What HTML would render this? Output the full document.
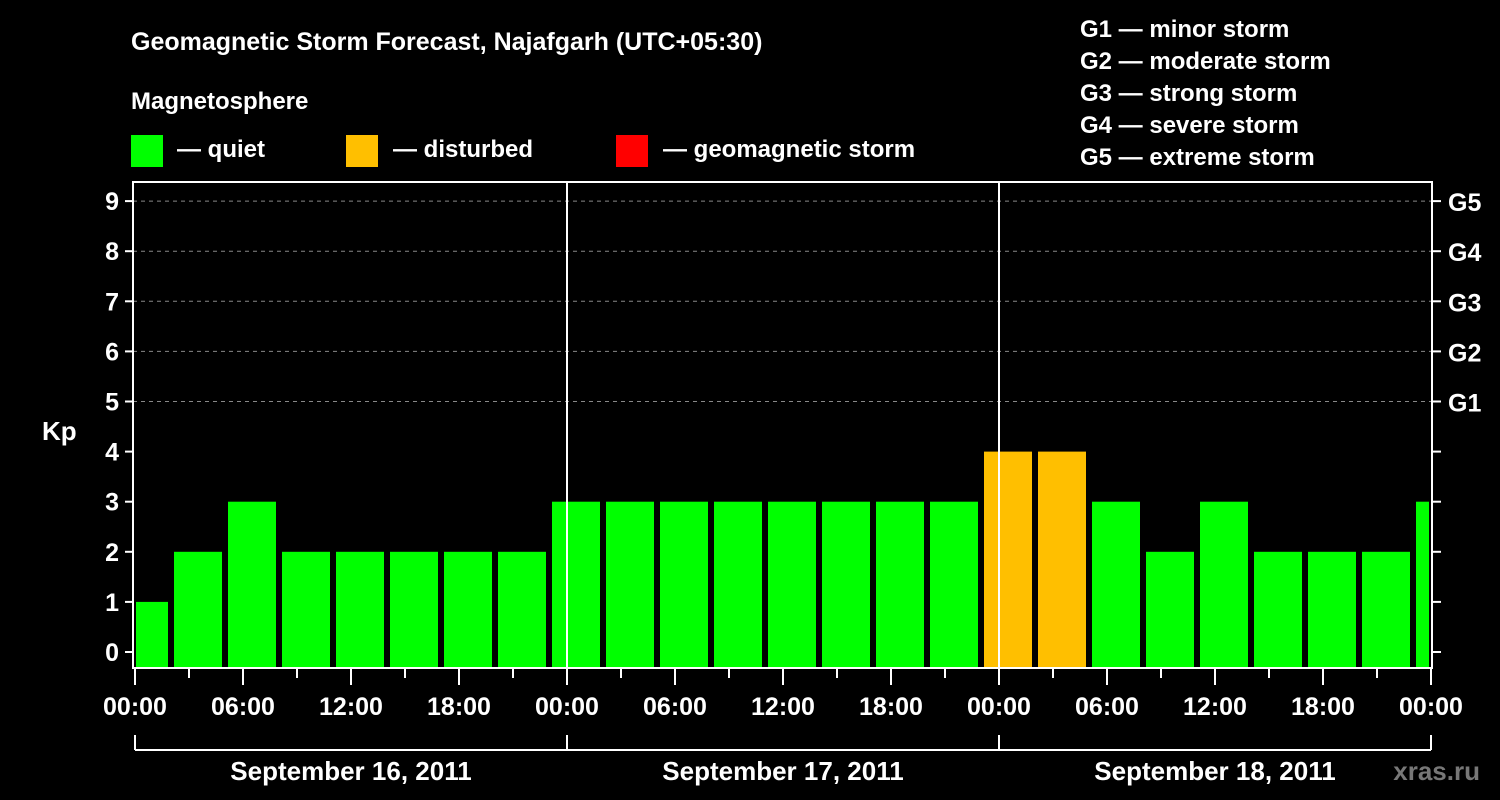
<!DOCTYPE html>
<html><head><meta charset="utf-8"><style>
html,body{margin:0;padding:0;background:#000;}
svg{display:block;font-family:"Liberation Sans",Arial,sans-serif;font-weight:bold;}
</style></head><body>
<svg id="chart" width="1500" height="800" viewBox="0 0 1500 800">
<rect width="1500" height="800" fill="#000"/>
<text x="131" y="50" fill="#fff" font-size="25">Geomagnetic Storm Forecast, Najafgarh (UTC+05:30)</text>
<text x="131" y="109" fill="#fff" font-size="24">Magnetosphere</text>
<g><rect x="131" y="135" width="32" height="32" fill="#00ff00"/><text x="177" y="157" fill="#fff" font-size="24">— quiet</text></g>
<g><rect x="346" y="135" width="32" height="32" fill="#ffbf00"/><text x="393" y="157" fill="#fff" font-size="24">— disturbed</text></g>
<g><rect x="616" y="135" width="32" height="32" fill="#ff0000"/><text x="663" y="157" fill="#fff" font-size="24">— geomagnetic storm</text></g>
<g fill="#fff" font-size="24">
<text x="1080" y="37">G1 — minor storm</text>
<text x="1080" y="69">G2 — moderate storm</text>
<text x="1080" y="101">G3 — strong storm</text>
<text x="1080" y="133">G4 — severe storm</text>
<text x="1080" y="165">G5 — extreme storm</text>
</g>
<text x="42" y="440" fill="#fff" font-size="26">Kp</text>
<g id="grid"></g>
<g id="bars"></g>
<g id="axes"></g>
<text x="1480" y="780" fill="#777" font-size="26" text-anchor="end">xras.ru</text>
</svg>
<script>
const kpValues = [1,2,3,2,2,2,2,2, 3,3,3,3,3,3,3,3, 4,4,3,2,3,2,2,2, 3];
const yTicks = [0,1,2,3,4,5,6,7,8,9];
const gLabels = ["G1","G2","G3","G4","G5"];
const gLevels = [5,6,7,8,9];
const xTickLabels = ["00:00","06:00","12:00","18:00","00:00","06:00","12:00","18:00","00:00","06:00","12:00","18:00","00:00"];
const dayLabels = ["September 16, 2011","September 17, 2011","September 18, 2011"];

const NS="http://www.w3.org/2000/svg";
const L=133,R=1432,T=182,B=668,X0=135,DAY=432;
const y=v=>652-v*50.1;
const xh=h=>X0+h*DAY/24;
function mk(tag,attrs,parent,txt){const e=document.createElementNS(NS,tag);for(const k in attrs)e.setAttribute(k,attrs[k]);if(txt!==undefined)e.textContent=txt;parent.appendChild(e);return e;}
const grid=document.getElementById('grid'),bars=document.getElementById('bars'),axes=document.getElementById('axes');
gLevels.forEach(v=>{const g=mk('line',{x1:L,x2:R,y1:y(v),y2:y(v),stroke:'#888','stroke-dasharray':'4,4','stroke-width':1},grid);

});
kpValues.forEach((v,i)=>{const c=xh(0.5+3*i);let x1=Math.max(c-24,L+3),x2=Math.min(c+24,R-3);
const col=v>=5?'#ff0000':(v>=4?'#ffbf00':'#00ff00');
const r=mk('rect',{x:x1,y:y(v),width:x2-x1,height:B-1-y(v),fill:col},bars);

});
// day separators
[1,2].forEach(d=>{const l=mk('line',{x1:X0+d*DAY,x2:X0+d*DAY,y1:T,y2:B,stroke:'#fff','stroke-width':2},axes);

});
// frame
const fr=mk('path',{d:`M${L},${T}H${R}V${B}H${L}Z`,fill:'none',stroke:'#fff','stroke-width':2},axes);


yTicks.forEach(v=>{mk('line',{x1:L-8,x2:L,y1:y(v),y2:y(v),stroke:'#fff','stroke-width':2},axes);
mk('line',{x1:R,x2:R+9,y1:y(v),y2:y(v),stroke:'#fff','stroke-width':2},axes);
const t=mk('text',{x:L-14,y:y(v)+9,fill:'#fff','font-size':25,'text-anchor':'end'},axes,String(v));

});
gLabels.forEach((g,i)=>{const t=mk('text',{x:1448,y:y(gLevels[i])+10,fill:'#fff','font-size':25},axes,g);

});
for(let h=0;h<=72;h+=3){const maj=h%6===0;mk('line',{x1:xh(h),x2:xh(h),y1:B,y2:maj?B+17:B+10,stroke:'#fff','stroke-width':2},axes);}
xTickLabels.forEach((s,i)=>{const t=mk('text',{x:xh(i*6),y:715,fill:'#fff','font-size':25,'text-anchor':'middle'},axes,s);

});
mk('line',{x1:X0,x2:X0+3*DAY,y1:750,y2:750,stroke:'#fff','stroke-width':2},axes);
for(let d=0;d<=3;d++)mk('line',{x1:X0+d*DAY,x2:X0+d*DAY,y1:735,y2:750,stroke:'#fff','stroke-width':2},axes);
dayLabels.forEach((s,i)=>{const t=mk('text',{x:X0+(i+0.5)*DAY,y:780,fill:'#fff','font-size':26,'text-anchor':'middle'},axes,s);

});
</script>
</body></html>
